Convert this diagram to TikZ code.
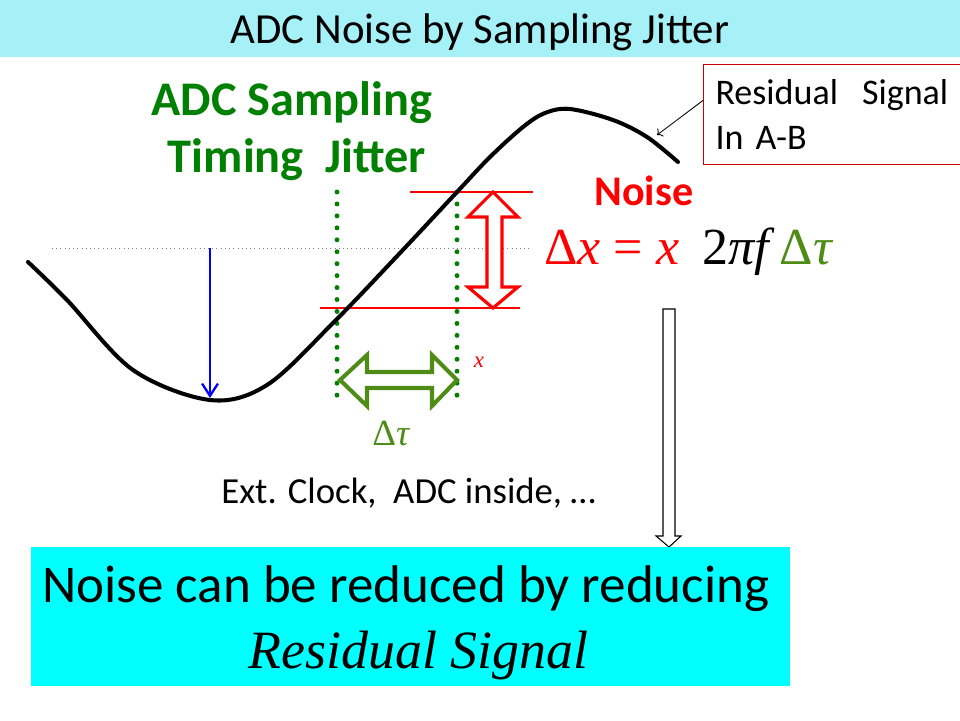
\documentclass[tikz,border=0pt]{standalone}
\usepackage{fontspec}
\setmainfont{Carlito}
\newfontfamily\timesfont{Liberation Serif}
\usetikzlibrary{arrows.meta}

\definecolor{titlecyan}{RGB}{166,240,247}
\definecolor{boxcyan}{RGB}{0,255,255}
\definecolor{jittergreen}{RGB}{0,128,0}
\definecolor{arrowgreen}{RGB}{78,140,22}
\definecolor{calloutred}{RGB}{204,0,0}

\newcommand*{\fs}[1]{\fontsize{#1}{#1}\selectfont}

\begin{document}
\begin{tikzpicture}[x=0.02cm, y=-0.02cm, every node/.style={inner sep=0pt}]
	\useasboundingbox (0,0) rectangle (960,720);

	%title bar
	\fill[titlecyan] (0,0) rectangle (960,57);
	\node[anchor=base] (title) at (480,43) {\fs{24.4}ADC Noise by Sampling Jitter};

	%green heading
	\node[anchor=base, text=jittergreen] (head1) at (292,115) {\fs{27.5}\bfseries ADC Sampling};
	\node[anchor=base, text=jittergreen] (head2) at (297,172) {\fs{27.5}\bfseries Timing~ Jitter};

	%zero level and sampled point
	\draw[dotted, gray] (52,248) -- (532,248);
	\draw[-{Straight Barb[length=7pt, width=9pt]}, blue, line width=1.3pt] (210,248) -- (210,398);

	%red levels at the two sampling instants
	\foreach \y / \a / \b in {192/410/533, 308/320/520}{
	\draw[red, line width=0.6pt] (\a,\y) -- (\b,\y);}

	%jittered sampling instants
	\foreach \x in {337,457}{
	\draw[jittergreen, line width=2.8pt, line cap=round, dash pattern=on 0pt off 6.8pt] (\x,192) -- (\x,398);}

	%residual signal
	\draw[line width=2.3pt, line cap=round] plot[smooth, tension=0.55] coordinates {(28,262) (67,300) (133,370) (210,400) (267,385) (333,323) (400,253) (457,192) (490,157) (523,127) (545,113) (570,109) (613,120) (647,137) (678,162)};

	%hollow arrows
	\draw[red, line width=1.8pt, line join=miter, fill=white] (493,192) -- (518,217) -- (502,217) -- (502,287) -- (518,287) -- (493,308) -- (468,287) -- (487,287) -- (487,217) -- (468,217) -- cycle;
	\draw[arrowgreen, line width=2.3pt, line join=miter, fill=white] (340,380) -- (367,355) -- (367,372) -- (432,372) -- (432,355) -- (457,380) -- (432,406) -- (432,388) -- (367,388) -- (367,406) -- cycle;
	\draw[line width=0.6pt, fill=white] (663,309) -- (675,309) -- (675,536) -- (681,536) -- (669,547) -- (656,536) -- (663,536) -- cycle;

	\node[anchor=base west, text=arrowgreen] (dtau) at (372,445) {\timesfont\fs{21}Δ\textit{τ}};
	\node[text=red] (xmark) at (479,362) {\timesfont\fs{13}\textit{x}};

	%noise formula
	\node[anchor=base west, text=red] (noise) at (594,205) {\fs{24}\bfseries Noise};
	\node[anchor=base west] (formula) at (544,264) {\timesfont\fs{29.6}\textcolor{red}{Δ\textit{x} = \textit{x}}\hspace{13pt}2\textit{πf}\hspace{3pt}\textcolor{arrowgreen}{Δ\textit{τ}}};

	%callout
	\node[draw=calloutred, line width=0.6pt, anchor=north west, minimum height=2cm, text width=4.7cm, inner xsep=0.24cm, align=left, font={\fontsize{20.5}{25.5}\selectfont}] (resbox) at (703,64) {Residual~ Signal\\In A-B};
	\coordinate (crest) at (657,135);
	\draw[->, line width=0.5pt] ([yshift=8pt]resbox.west) -- (crest);

	\node[anchor=base west] (sources) at (221,503) {\fs{20.9}Ext. Clock,~ ADC inside, …};

	%conclusion box
	\fill[boxcyan] (31,547) rectangle (790,686);
	\node[anchor=base west] (concl1) at (42,602) {\fs{30.2}Noise can be reduced by reducing};
	\node[anchor=base west] (concl2) at (248,668) {\timesfont\itshape\fs{30.7}Residual Signal};

\end{tikzpicture}
\end{document}
